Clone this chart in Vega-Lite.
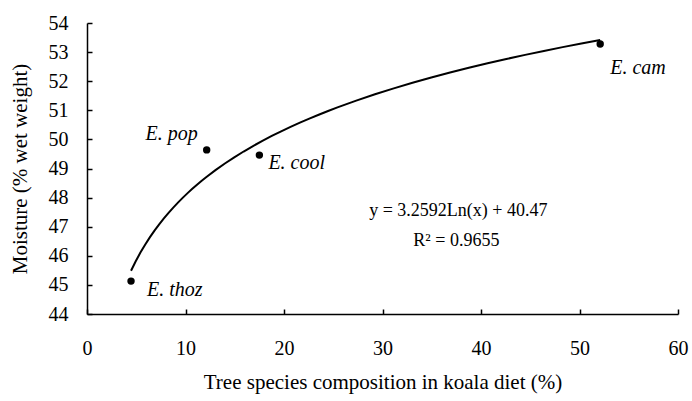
{
  "$schema": "https://vega.github.io/schema/vega-lite/v6.json",
  "width": 591,
  "height": 291,
  "autosize": {"type": "none"},
  "padding": {"left": 87, "top": 23, "right": 14, "bottom": 87},
  "background": "white",
  "config": {
    "view": {"stroke": null},
    "font": "Liberation Serif",
    "axis": {
      "grid": false,
      "domainColor": "black",
      "domainWidth": 1.5,
      "tickColor": "black",
      "tickWidth": 1.5,
      "tickSize": -5,
      "labelFont": "Liberation Serif",
      "labelFontSize": 20,
      "labelColor": "black",
      "titleFont": "Liberation Serif",
      "titleFontSize": 21,
      "titleFontWeight": "normal",
      "titleColor": "black"
    }
  },
  "datasets": {
    "species": [
      {"species": "E. thoz", "diet": 4.47, "moisture": 45.13},
      {"species": "E. pop", "diet": 12.15, "moisture": 49.64},
      {"species": "E. cool", "diet": 17.5, "moisture": 49.46},
      {"species": "E. cam", "diet": 52.1, "moisture": 53.28}
    ],
    "notes": [
      {"diet": 37.7, "moisture": 47.55, "label": "y = 3.2592Ln(x) + 40.47"},
      {"diet": 37.5, "moisture": 46.5, "label": "R² = 0.9655"}
    ]
  },
  "data": {"name": "species"},
  "encoding": {
    "x": {
      "field": "diet", "type": "quantitative",
      "scale": {"domain": [0, 60], "nice": false, "zero": false},
      "axis": {"values": [0, 10, 20, 30, 40, 50, 60], "labelPadding": 29, "labelFlush": false, "title": "Tree species composition in koala diet (%)", "titlePadding": 13}
    },
    "y": {
      "field": "moisture", "type": "quantitative",
      "scale": {"domain": [44, 54], "nice": false, "zero": false},
      "axis": {"values": [44, 45, 46, 47, 48, 49, 50, 51, 52, 53, 54], "labelPadding": 24, "title": "Moisture (% wet weight)", "titlePadding": 18}
    }
  },
  "layer": [
    {
      "transform": [{"regression": "moisture", "on": "diet", "method": "log"}],
      "mark": {"type": "line", "color": "black", "strokeWidth": 2}
    },
    {
      "mark": {"type": "point", "filled": true, "color": "black", "opacity": 1, "size": 55}
    },
    {
      "transform": [{"filter": "datum.species === 'E. thoz'"}],
      "mark": {"type": "text", "align": "left", "baseline": "middle", "dx": 16, "dy": 9, "fontStyle": "italic", "fontSize": 20, "color": "black"},
      "encoding": {"text": {"field": "species"}}
    },
    {
      "transform": [{"filter": "datum.species === 'E. pop'"}],
      "mark": {"type": "text", "align": "right", "baseline": "middle", "dx": -9, "dy": -16, "fontStyle": "italic", "fontSize": 20, "color": "black"},
      "encoding": {"text": {"field": "species"}}
    },
    {
      "transform": [{"filter": "datum.species === 'E. cool'"}],
      "mark": {"type": "text", "align": "left", "baseline": "middle", "dx": 9, "dy": 8, "fontStyle": "italic", "fontSize": 20, "color": "black"},
      "encoding": {"text": {"field": "species"}}
    },
    {
      "transform": [{"filter": "datum.species === 'E. cam'"}],
      "mark": {"type": "text", "align": "left", "baseline": "middle", "dx": 10, "dy": 24, "fontStyle": "italic", "fontSize": 20, "color": "black"},
      "encoding": {"text": {"field": "species"}}
    },
    {
      "data": {"name": "notes"},
      "mark": {"type": "text", "align": "center", "baseline": "middle", "fontSize": 18, "color": "black"},
      "encoding": {"text": {"field": "label"}}
    }
  ]
}
